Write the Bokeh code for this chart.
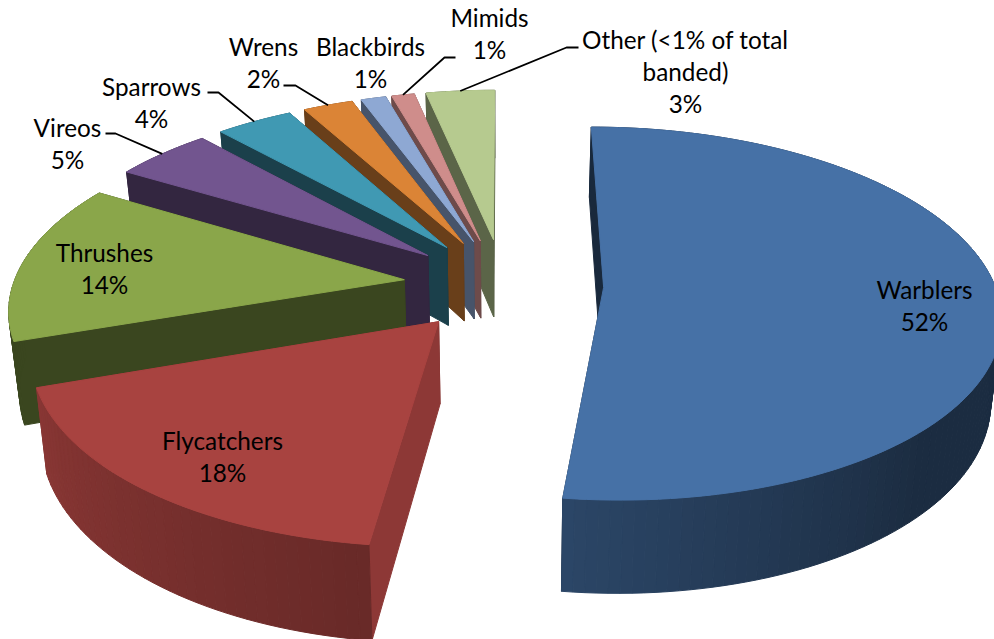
import math
from bokeh.plotting import figure
from bokeh.models import ColumnDataSource, Range1d
from bokeh.core.properties import value
from bokeh.embed import file_html
from bokeh.resources import INLINE

# ---- data ----
categories = ["Warblers", "Flycatchers", "Thrushes", "Vireos", "Sparrows",
              "Wrens", "Blackbirds", "Mimids", "Other (<1% of total\nbanded)"]
percent = [52.0, 17.7, 13.9, 4.7, 3.7, 2.4, 1.2, 1.1, 3.3]

# ---- styles ----
top_colors = ["#4671A6", "#A84340", "#8AA64A", "#72558F", "#4099B3",
              "#DB8436", "#8EA8D3", "#CF8D8B", "#B6CA8F"]
wall_shade = [0.36, 0.84, 0.42, 0.45, 0.42, 0.48, 0.50, 0.53, 0.50]
rim_cap = [1.0, 1.0, 0.42, 0.45, 0.42, 0.48, 0.50, 0.53, 0.50]

# label centres (page pixels): one y per text line
label_x = [924, 222, 104, 67, 151, 263, 370, 489, 685]
label_y = [289, 440, 252, 127, 86, 46, 46, 17, 39]
line_gap = 32
# leader line start points (label side) and elbow x, page pixels
leader_start = {3: (105, 133, 115), 4: (207, 92, 218), 5: (283, 85, 295),
                7: (455, 57, 444), 8: (578, 47, 566)}

# ---- projection of the exploded 3-D pie ----
CX, CY, A, B, K, H, EXPLODE, TAPER = 503.0, 284.0, 391.0, 182.0, 0.14, 80.0, 0.256, 0.022


def project(x, y, z=0.0):
    s = 1.0 / (1.0 + K * y)
    return CX + A * x * s * (1.0 - TAPER * z), CY - B * y * s + H * z * s


def shade(hex_color, f):
    r, g, b = [int(hex_color[i:i + 2], 16) for i in (1, 3, 5)]
    return "#%02x%02x%02x" % (round(r * f), round(g * f), round(b * f))


def rim_shade(deg):
    if deg < 135.0:
        return 0.39
    if deg < 187.0:
        return 0.39 + (deg - 135.0) * 0.23 / 52.0
    return min(0.84, 0.62 + (deg - 187.0) * 0.20 / 65.0)


xs, ys, colors = [], [], []


def add(points, color):
    xs.append([p[0] for p in points])
    ys.append([p[1] for p in points])
    colors.append(color)


total = float(sum(percent))
starts, ends = [], []
acc = 0.0
for v in percent:
    starts.append(acc)
    acc += v / total * 360.0
    ends.append(acc)

order = list(range(len(percent) - 1, -1, -1))
rim_mid = {}
for i in order:
    a0, a1 = starts[i], ends[i]
    mid = math.radians((a0 + a1) / 2)
    ax, ay = EXPLODE * math.sin(mid), EXPLODE * math.cos(mid)
    n = max(2, int((a1 - a0) / 1.5))
    angs = [a0 + (a1 - a0) * j / n for j in range(n + 1)]
    rim = [(ax + math.sin(math.radians(t)), ay + math.cos(math.radians(t))) for t in angs]
    rim_mid[i] = project(ax + math.sin(mid), ay + math.cos(mid))
    col = top_colors[i]

    quads = []
    for j in range(n):
        tm = (angs[j] + angs[j + 1]) / 2
        q = [project(*rim[j]), project(*rim[j + 1]),
             project(*rim[j + 1], 1.0), project(*rim[j], 1.0)]
        quads.append((math.cos(math.radians(tm)), q, tm))
    # back-facing outer rim
    for c, q, tm in sorted([q for q in quads if q[0] > 0], key=lambda r: -r[0]):
        add(q, shade(col, min(rim_cap[i], rim_shade(tm))))
    # radial walls: far one first
    for pt, f in ((rim[-1], wall_shade[i] * 0.9), (rim[0], wall_shade[i])):
        add([project(ax, ay), project(*pt), project(*pt, 1.0), project(ax, ay, 1.0)], shade(col, f))
    # front-facing outer rim
    for c, q, tm in sorted([q for q in quads if q[0] <= 0], key=lambda r: -r[0]):
        add(q, shade(col, min(rim_cap[i], rim_shade(tm))))
    # top face
    add([project(ax, ay)] + [project(*p) for p in rim], col)

W, H_PX = 994, 639
p = figure(width=W, height=H_PX, output_backend="svg", toolbar_location=None,
           x_range=Range1d(0, W), y_range=Range1d(H_PX, 0),
           min_border=0, outline_line_color=None)
p.axis.visible = False
p.grid.visible = False
p.background_fill_color = "white"
p.border_fill_color = "white"

src = ColumnDataSource(dict(xs=xs, ys=ys, fill=colors))
p.patches("xs", "ys", source=src, fill_color="fill", line_color="fill", line_width=1)

for i, (sx, sy, ex) in leader_start.items():
    rx, ry = rim_mid[i]
    p.line([sx, ex, rx], [sy, sy, ry], line_color="black", line_width=1.8)

tx, ty, tt = [], [], []
for i, name in enumerate(categories):
    lines = name.split("\n") + ["%d%%" % round(percent[i])]
    for k, t in enumerate(lines):
        tx.append(label_x[i])
        ty.append(label_y[i] + k * line_gap)
        tt.append(t)
p.text(tx, ty, text=tt, text_font=value("Lato"), text_font_size="24.3px",
       text_align="center", text_baseline="middle", text_color="black")

open("out.html", "w").write(file_html(p, INLINE))
